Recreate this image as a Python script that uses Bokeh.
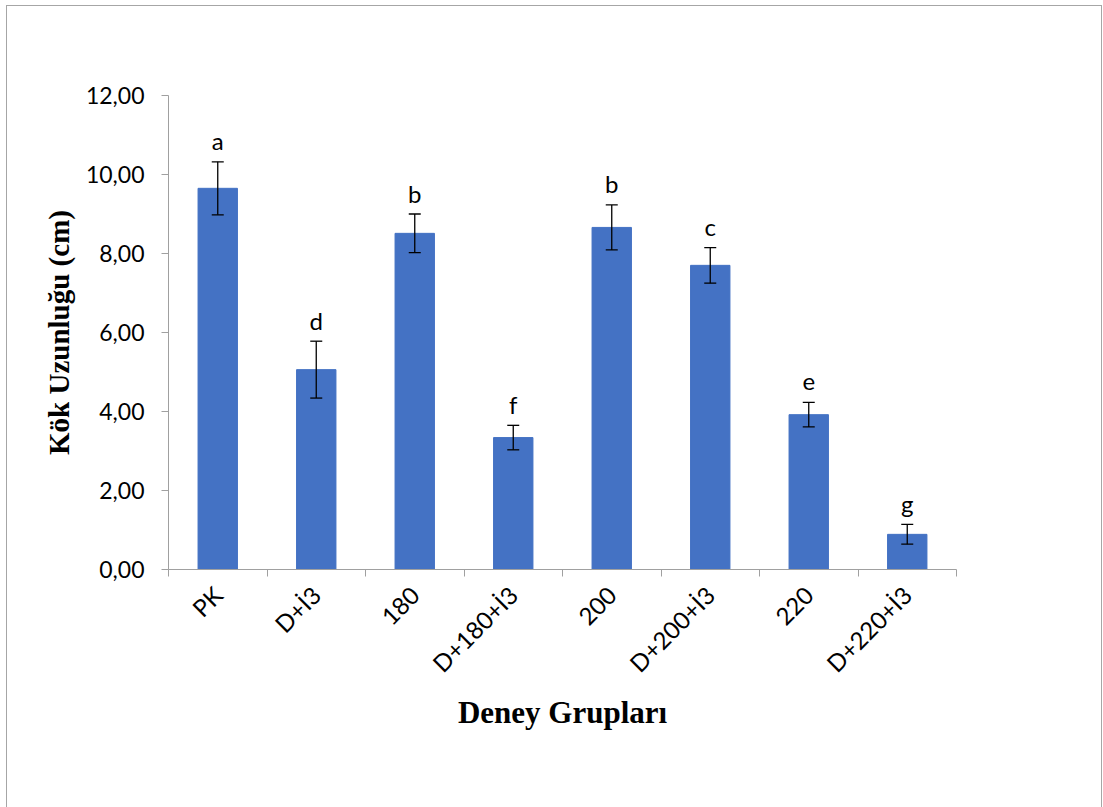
import math
from bokeh.plotting import figure
from bokeh.models import Range1d, FixedTicker, ColumnDataSource, Whisker, TeeHead, InlineStyleSheet
from bokeh.core.properties import value
from bokeh.embed import file_html
from bokeh.resources import INLINE

categories = ["PK", "D+İ3", "180", "D+180+İ3", "200", "D+200+İ3", "220", "D+220+İ3"]
means = [9.65, 5.06, 8.51, 3.34, 8.66, 7.70, 3.92, 0.89]
errors = [0.67, 0.72, 0.49, 0.31, 0.57, 0.45, 0.31, 0.25]
letters = ["a", "d", "b", "f", "b", "c", "e", "g"]
y_ticks = [0, 2, 4, 6, 8, 10, 12]
y_tick_labels = ["0,00", "2,00", "4,00", "6,00", "8,00", "10,00", "12,00"]

xs = [i + 0.5 for i in range(len(categories))]
src = ColumnDataSource(dict(
    x=xs, top=means,
    upper=[m + e for m, e in zip(means, errors)],
    lower=[m - e for m, e in zip(means, errors)],
    letter=letters,
))

FONT = "Lato"
AXIS_GRAY = "#a0a0a0"

frame_css = InlineStyleSheet(css="""
:host::after {
  content: "";
  position: absolute;
  left: 6px; top: 5px; right: 1px; bottom: 0px;
  border: 1.5px solid #a6a6a6;
  border-bottom: none;
  pointer-events: none;
}
""")

p = figure(width=1103, height=807, output_backend="svg", toolbar_location=None,
           x_range=Range1d(0, len(categories)), y_range=Range1d(0, 12),
           min_border_left=168, min_border_right=147, min_border_top=95,
           min_border_bottom=238, stylesheets=[frame_css])
p.outline_line_color = None
p.xgrid.visible = False
p.ygrid.visible = False

p.vbar(x="x", top="top", width=0.4, source=src, fill_color="#4472C4",
       line_color="#4472C4")

w = Whisker(source=src, base="x", upper="upper", lower="lower",
            line_color="black", line_width=1.3, level="overlay",
            upper_head=TeeHead(size=12, line_color="black", line_width=1.3),
            lower_head=TeeHead(size=12, line_color="black", line_width=1.3))
p.add_layout(w)

p.text(x="x", y="upper", text="letter", source=src, y_offset=-21,
       text_align="center", text_baseline="alphabetic",
       text_font=value(FONT), text_font_size="24px", text_color="black")

# y axis
ya = p.yaxis[0]
ya.ticker = FixedTicker(ticks=y_ticks)
ya.major_label_overrides = {t: l for t, l in zip(y_ticks, y_tick_labels)}
ya.axis_line_color = AXIS_GRAY
ya.major_tick_line_color = AXIS_GRAY
ya.major_tick_out = 7
ya.major_tick_in = 0
ya.minor_tick_line_color = None
ya.major_label_standoff = 17
ya.major_label_text_font = FONT
ya.major_label_text_font_size = "23px"
ya.major_label_text_color = "black"
ya.axis_label = "Kök Uzunluğu (cm)"
ya.axis_label_text_font = "Liberation Serif"
ya.axis_label_text_font_style = "bold"
ya.axis_label_text_font_size = "29px"
ya.axis_label_text_color = "black"
ya.axis_label_standoff = 8

# x axis
xa = p.xaxis[0]
xa.ticker = FixedTicker(ticks=xs, minor_ticks=list(range(len(categories) + 1)))
xa.major_label_overrides = {x: c for x, c in zip(xs, categories)}
xa.axis_line_color = AXIS_GRAY
xa.major_tick_line_color = None
xa.major_tick_out = 0
xa.major_tick_in = 0
xa.minor_tick_line_color = AXIS_GRAY
xa.minor_tick_out = 7
xa.minor_tick_in = 0
xa.major_label_orientation = math.pi / 4
xa.major_label_standoff = 14
xa.major_label_text_font = FONT
xa.major_label_text_font_size = "24px"
xa.major_label_text_color = "black"
xa.axis_label = "Deney Grupları"
xa.axis_label_text_font = "Liberation Serif"
xa.axis_label_text_font_style = "bold"
xa.axis_label_text_font_size = "31px"
xa.axis_label_text_color = "black"
xa.axis_label_standoff = 4

open("out.html", "w").write(file_html(p, INLINE))
